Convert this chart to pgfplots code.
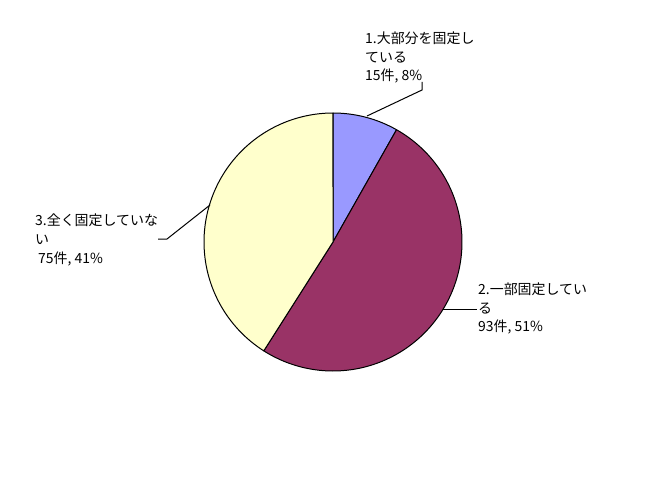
\documentclass[border=0pt]{standalone}
\usepackage{pgfplots}
\pgfplotsset{compat=1.18}
\usepackage{fontspec}
\setmainfont{Noto Sans CJK JP}
\definecolor{sliceA}{HTML}{9999FF}
\definecolor{sliceB}{HTML}{993366}
\definecolor{sliceC}{HTML}{FFFFCC}
% data: counts
\def\vA{15}
\def\vB{93}
\def\vC{75}
\begin{document}
\begin{tikzpicture}
\pgfmathsetmacro{\tot}{\vA+\vB+\vC}
\pgfmathsetmacro{\aA}{\vA/\tot*360}
\pgfmathsetmacro{\aB}{\aA+\vB/\tot*360}
\begin{axis}[
  hide axis, scale only axis,
  width=669bp, height=487bp,
  xmin=0, xmax=669, ymin=0, ymax=487,
  y dir=reverse, clip=false,
]
\addplot[draw=black, line width=1bp, fill=sliceA, domain=0:\aA, samples=40, variable=\t, line join=round]
  ({333+129*sin(t)}, {242-129*cos(t)}) -- (axis cs:333,242) -- cycle;
\addplot[draw=black, line width=1bp, fill=sliceB, domain=\aA:\aB, samples=120, variable=\t, line join=round]
  ({333+129*sin(t)}, {242-129*cos(t)}) -- (axis cs:333,242) -- cycle;
\addplot[draw=black, line width=1bp, fill=sliceC, domain=\aB:360, samples=100, variable=\t, line join=round]
  ({333+129*sin(t)}, {242-129*cos(t)}) -- (axis cs:333,242) -- cycle;
% leader lines
\draw[black, line width=1bp] (axis cs:367,116) -- (axis cs:422,90) -- (axis cs:422,82);
\draw[black, line width=1bp] (axis cs:210,205) -- (axis cs:167,239) -- (axis cs:158,239);
\draw[black, line width=1bp] (axis cs:443,309) -- (axis cs:477,309);
% labels
\node[anchor=north west, inner sep=0pt, align=left, font=\fontsize{14}{18.5}\selectfont]
  at (axis cs:365,32) {1.大部分を固定し\\ている\\15件, 8\%};
\node[anchor=north west, inner sep=0pt, align=left, font=\fontsize{14}{19}\selectfont]
  at (axis cs:35,214) {3.全く固定していな\\い\\\hspace{3bp}75件, 41\%};
\node[anchor=north west, inner sep=0pt, align=left, font=\fontsize{14}{18.5}\selectfont]
  at (axis cs:478,283) {2.一部固定してい\\る\\93件, 51\%};
\path (rel axis cs:0,0) rectangle (rel axis cs:1,1);
\end{axis}
\end{tikzpicture}
\end{document}
